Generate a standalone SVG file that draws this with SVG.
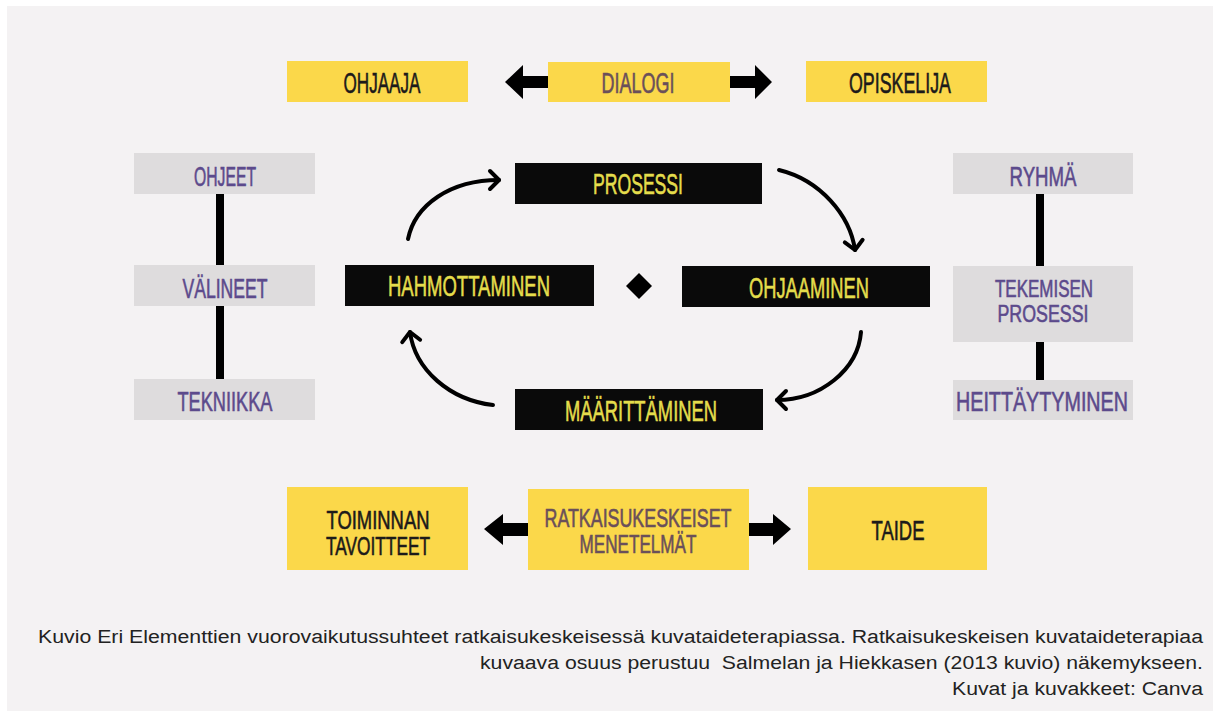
<svg xmlns="http://www.w3.org/2000/svg" width="1215" height="718" viewBox="0 0 1215 718">
<defs>
<style>
.y{fill:#fbd84a}
.g{fill:#dedcdd}
.k{fill:#0a0a0a}
.t{font-family:"Liberation Sans",Arial,sans-serif;text-anchor:middle;stroke-width:0.6}
.dk{fill:#1c1a1a;stroke:#1c1a1a}
.pu{fill:#5c4a8c;stroke:#5c4a8c}
.br{fill:#6a4f5a;stroke:#6a4f5a}
.yt{fill:#e4dd4c;stroke:#e4dd4c}
.cap{font-family:"Liberation Sans",Arial,sans-serif;font-size:18px;fill:#222;text-anchor:end}
.bar{fill:#000}
.cv{fill:none;stroke:#000;stroke-width:4;stroke-linecap:round}
</style>
<marker id="chev" markerUnits="userSpaceOnUse" markerWidth="24" markerHeight="24" refX="12" refY="12" orient="auto" viewBox="0 0 24 24">
<path d="M3,3 L12,12 L3,21" fill="none" stroke="#000" stroke-width="4" stroke-linecap="round" stroke-linejoin="round"/>
</marker>
</defs>
<rect x="0" y="0" width="1215" height="718" fill="#ffffff"/>
<rect x="7" y="6" width="1206" height="705" fill="#f4f2f3"/>

<g id="connectors">
<polygon points="505,82 523,65 523,76 550,76 550,88 523,88 523,99" fill="#000"/>
<polygon points="772,82 755,65 755,76 726,76 726,88 755,88 755,99" fill="#000"/>
<polygon points="484,529 503,514 503,523 530,523 530,536 503,536 503,545" fill="#000"/>
<polygon points="791,529 773,514 773,523 746,523 746,536 773,536 773,545" fill="#000"/>
<rect class="bar" x="216" y="193" width="8" height="73"/>
<rect class="bar" x="216" y="305" width="8" height="75"/>
<rect class="bar" x="1036" y="193" width="8" height="74"/>
<rect class="bar" x="1036" y="341" width="8" height="40"/>
<path class="cv" d="M408,239 C415,205 450,180 499,180" marker-end="url(#chev)"/>
<path class="cv" d="M779,170 C820,180 850,215 855,250" marker-end="url(#chev)"/>
<path class="cv" d="M861,332 C858,370 820,400 777,400" marker-end="url(#chev)"/>
<path class="cv" d="M493,405 C450,400 415,370 410,332" marker-end="url(#chev)"/>
</g>

<g id="ohjaaja"><rect class="y" x="287" y="61" width="181" height="41"/><text class="t dk" x="382" y="93" font-size="29" textLength="77" lengthAdjust="spacingAndGlyphs">OHJAAJA</text></g>
<g id="dialogi"><rect class="y" x="548" y="62" width="182" height="40"/><text class="t br" x="638" y="93" font-size="29" textLength="73" lengthAdjust="spacingAndGlyphs">DIALOGI</text></g>
<g id="opiskelija"><rect class="y" x="806" y="61" width="181" height="41"/><text class="t dk" x="900" y="93" font-size="29" textLength="102" lengthAdjust="spacingAndGlyphs">OPISKELIJA</text></g>

<g id="ohjeet"><rect class="g" x="134" y="153" width="181" height="41"/><text class="t pu" x="225" y="186" font-size="27" textLength="62" lengthAdjust="spacingAndGlyphs">OHJEET</text></g>
<g id="valineet"><rect class="g" x="134" y="265" width="181" height="41"/><text class="t pu" x="225" y="298" font-size="27" textLength="85" lengthAdjust="spacingAndGlyphs">VÄLINEET</text></g>
<g id="tekniikka"><rect class="g" x="134" y="379" width="181" height="41"/><text class="t pu" x="225" y="411" font-size="27" textLength="95" lengthAdjust="spacingAndGlyphs">TEKNIIKKA</text></g>

<g id="ryhma"><rect class="g" x="953" y="153" width="180" height="41"/><text class="t pu" x="1043" y="186" font-size="27" textLength="67" lengthAdjust="spacingAndGlyphs">RYHMÄ</text></g>
<g id="tekemisen"><rect class="g" x="953" y="266" width="180" height="76"/><text class="t pu" x="1044" y="297" font-size="24" textLength="98" lengthAdjust="spacingAndGlyphs">TEKEMISEN</text><text class="t pu" x="1043" y="322" font-size="24" textLength="91" lengthAdjust="spacingAndGlyphs">PROSESSI</text></g>
<g id="heittaytyminen"><rect class="g" x="953" y="380" width="180" height="40"/><text class="t pu" x="1042" y="411" font-size="27" textLength="172" lengthAdjust="spacingAndGlyphs">HEITTÄYTYMINEN</text></g>

<g id="prosessi"><rect class="k" x="515" y="163" width="247" height="41"/><text class="t yt" x="638" y="194" font-size="29" textLength="90" lengthAdjust="spacingAndGlyphs">PROSESSI</text></g>
<g id="hahmottaminen"><rect class="k" x="345" y="265" width="249" height="41"/><text class="t yt" x="469" y="296" font-size="29" textLength="162" lengthAdjust="spacingAndGlyphs">HAHMOTTAMINEN</text></g>
<g id="ohjaaminen"><rect class="k" x="682" y="266" width="248" height="41"/><text class="t yt" x="809" y="298" font-size="29" textLength="120" lengthAdjust="spacingAndGlyphs">OHJAAMINEN</text></g>
<g id="maarittaminen"><rect class="k" x="515" y="389" width="248" height="41"/><text class="t yt" x="641" y="421" font-size="29" textLength="152" lengthAdjust="spacingAndGlyphs">MÄÄRITTÄMINEN</text></g>
<g id="diamond"><polygon points="639,273 652,286 639,299 626,286" fill="#000"/></g>

<g id="toiminnan"><rect class="y" x="287" y="487" width="181" height="83"/><text class="t dk" x="378" y="529" font-size="25" textLength="103" lengthAdjust="spacingAndGlyphs">TOIMINNAN</text><text class="t dk" x="378" y="555" font-size="25" textLength="104" lengthAdjust="spacingAndGlyphs">TAVOITTEET</text></g>
<g id="ratkaisu"><rect class="y" x="528" y="489" width="221" height="81"/><text class="t br" x="638" y="527" font-size="25" textLength="187" lengthAdjust="spacingAndGlyphs">RATKAISUKESKEISET</text><text class="t br" x="638" y="553" font-size="25" textLength="117" lengthAdjust="spacingAndGlyphs">MENETELMÄT</text></g>
<g id="taide"><rect class="y" x="808" y="487" width="179" height="83"/><text class="t dk" x="898" y="540" font-size="28" textLength="53" lengthAdjust="spacingAndGlyphs">TAIDE</text></g>

<g id="caption">
<text class="cap" x="1203" y="643" textLength="1165" lengthAdjust="spacingAndGlyphs">Kuvio Eri Elementtien vuorovaikutussuhteet ratkaisukeskeisessä kuvataideterapiassa. Ratkaisukeskeisen kuvataideterapiaa</text>
<text class="cap" x="1203" y="669" textLength="723" lengthAdjust="spacingAndGlyphs" xml:space="preserve">kuvaava osuus perustuu  Salmelan ja Hiekkasen (2013 kuvio) näkemykseen.</text>
<text class="cap" x="1203" y="695" textLength="251" lengthAdjust="spacingAndGlyphs">Kuvat ja kuvakkeet: Canva</text>
</g>
</svg>
